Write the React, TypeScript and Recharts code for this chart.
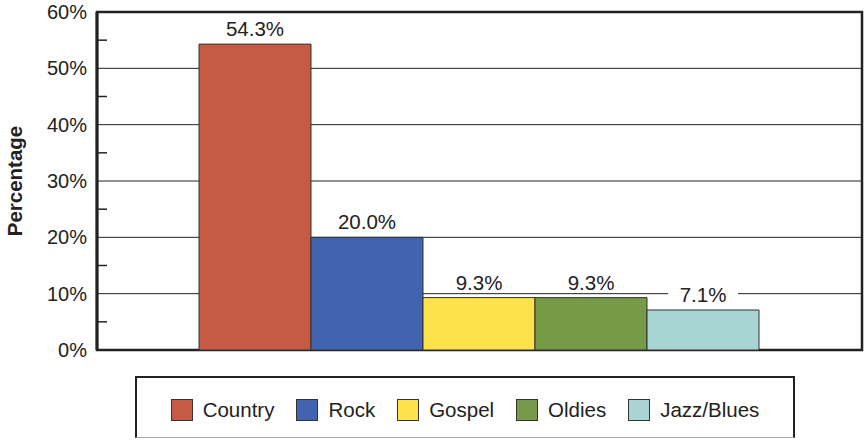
import { BarChart, Bar, XAxis, YAxis, CartesianGrid, LabelList, ReferenceArea } from 'recharts';

const categories = ['Country', 'Rock', 'Gospel', 'Oldies', 'Jazz/Blues'];
const values = [54.3, 20.0, 9.3, 9.3, 7.1];
const colors = ['#C65A45', '#4263B0', '#FDE24B', '#769A47', '#A9D4D4'];
const yTicks = [0, 5, 10, 15, 20, 25, 30, 35, 40, 45, 50, 55, 60];
const gridValues = [10, 20, 30, 40, 50];

const keys = categories.map((_, i) => `s${i}`);
const row: Record<string, number | string> = { name: '' };
keys.forEach((k, i) => { row[k] = values[i]; });
const data = [row];

const FONT = '"Liberation Sans", Arial, Helvetica, sans-serif';
const INK = '#222';

const YTick = ({ x, y, payload }: any) => {
  const v = payload.value;
  if (v % 10 !== 0) {
    return <line x1={x + 10} x2={x + 20} y1={y} y2={y} stroke={INK} strokeWidth={1.5} />;
  }
  return (
    <text x={x} y={y} dy={7} textAnchor="end" fontSize={20} fill={INK} fontFamily={FONT}>
      {v}%
    </text>
  );
};

const BarLabel = (props: any) => {
  const { x, y, width, value } = props;
  const cx = x + width / 2;
  const base = y - 8;
  return (
    <g>
      <rect x={cx - 35} y={base - 16} width={70} height={18} fill="#fff" />
      <text x={cx} y={base} textAnchor="middle" fontSize={20.5} fill={INK} fontFamily={FONT}>
        {Number(value).toFixed(1)}%
      </text>
    </g>
  );
};

const AxisTitle = () => (
  <text
    x={14}
    y={181}
    transform="rotate(-90 14 181)"
    textAnchor="middle"
    dominantBaseline="central"
    fontSize={20.5}
    fontWeight="bold"
    fill={INK}
    fontFamily={FONT}
  >
    Percentage
  </text>
);

const App = () => {
  return (
    <div style={{ position: 'absolute', left: 0, top: 0, width: 865, height: 441, background: '#fff', fontFamily: FONT }}>
      <BarChart
        width={865}
        height={441}
        data={data}
        margin={{ top: 12, right: 3, left: 0, bottom: 91 }}
        barCategoryGap={102}
        barGap={0}
      >
        <CartesianGrid vertical={false} horizontalValues={gridValues} stroke={INK} strokeWidth={1} />
        <XAxis dataKey="name" tick={false} tickLine={false} height={0} axisLine={{ stroke: INK, strokeWidth: 3 }} />
        <YAxis
          width={97}
          domain={[0, 60]}
          ticks={yTicks}
          interval={0}
          tickLine={false}
          tickSize={0}
          tickMargin={10}
          tick={<YTick />}
          axisLine={{ stroke: INK, strokeWidth: 3 }}
          label={{ content: () => <AxisTitle /> }}
        />
        <ReferenceArea y1={0} y2={60} fill="none" stroke={INK} strokeWidth={2.5} />
        {keys.map((k, i) => (
          <Bar key={k} dataKey={k} name={categories[i]} fill={colors[i]} stroke="#333" strokeWidth={1} isAnimationActive={false}>
            <LabelList dataKey={k} content={<BarLabel />} />
          </Bar>
        ))}
      </BarChart>
      <div
        style={{
          position: 'absolute',
          left: 135,
          top: 376,
          width: 660,
          height: 62,
          boxSizing: 'border-box',
          borderTop: `2px solid ${INK}`,
          borderLeft: `2px solid ${INK}`,
          borderRight: `2px solid ${INK}`,
          borderBottom: '1px solid #aaa',
          display: 'flex',
          alignItems: 'center',
          justifyContent: 'center',
          paddingTop: 4,
          fontSize: 20.5,
          color: INK,
        }}
      >
        {categories.map((c, i) => (
          <div key={c} style={{ display: 'flex', alignItems: 'center', marginLeft: i === 0 ? 0 : 22 }}>
            <span
              style={{
                display: 'inline-block',
                width: 22,
                height: 22,
                boxSizing: 'border-box',
                background: colors[i],
                border: '1.5px solid #333',
                marginRight: 10,
              }}
            />
            <span>{c}</span>
          </div>
        ))}
      </div>
    </div>
  );
};

export default App;
